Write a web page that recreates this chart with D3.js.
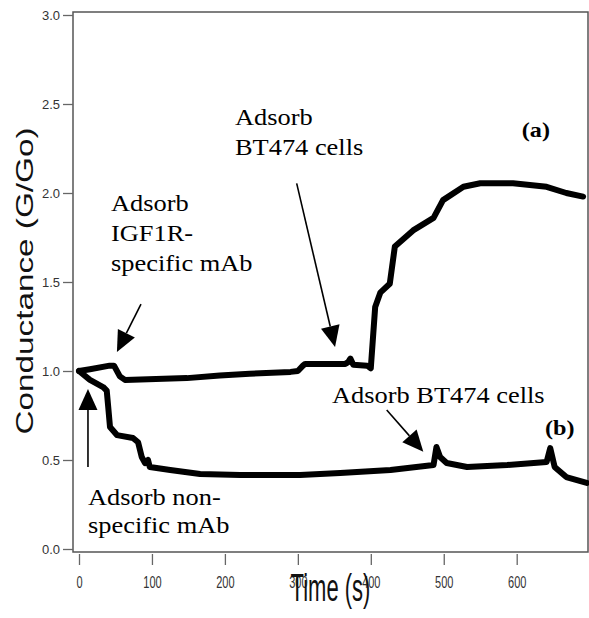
<!DOCTYPE html>
<html>
<head>
<meta charset="utf-8">
<script src="https://cdn.jsdelivr.net/npm/d3@7"></script>
<style>
  html, body { margin: 0; padding: 0; background: #fff; }
  svg { display: block; }
</style>
</head>
<body>
<svg id="chart" width="589" height="618"></svg>
<script>
// ---- data ----
const timeA = [0, 15, 42, 48, 56, 63, 148, 193, 234, 290, 300, 307, 310, 365, 369, 372, 376, 395, 400, 406, 413, 426, 433, 458, 486, 499, 527, 550, 595, 641, 668, 691];
const condA = [1.0, 1.01, 1.03, 1.03, 0.97, 0.95, 0.96, 0.975, 0.985, 0.995, 1.0, 1.03, 1.04, 1.04, 1.05, 1.07, 1.035, 1.03, 1.015, 1.36, 1.44, 1.49, 1.70, 1.79, 1.86, 1.96, 2.035, 2.055, 2.055, 2.035, 2.0, 1.98];
const timeB = [0, 15, 33, 38, 40, 42.5, 52, 74, 81, 86, 90.5, 94.6, 97, 125, 166, 221, 303, 358, 427, 486, 490, 495, 504, 532, 587, 641, 646, 652, 668, 696];
const condB = [1.0, 0.95, 0.91, 0.89, 0.80, 0.685, 0.64, 0.624, 0.60, 0.517, 0.483, 0.50, 0.461, 0.444, 0.421, 0.416, 0.416, 0.427, 0.444, 0.472, 0.573, 0.517, 0.483, 0.461, 0.472, 0.489, 0.567, 0.461, 0.404, 0.371];
const xTicks = [0, 100, 200, 300, 400, 500, 600];
const yTicks = [0.0, 0.5, 1.0, 1.5, 2.0, 2.5, 3.0];
const xTitle = "Time (s)";
const yTitle = "Conductance (G/Go)";

const svg = d3.select("#chart");
const box = {left: 73, top: 12, right: 588, bottom: 552};

const x = d3.scaleLinear().domain([0, 600]).range([79, 516.7]);
const y = d3.scaleLinear().domain([0, 3]).range([549, 15]);

// frame
svg.append("rect")
  .attr("x", box.left).attr("y", box.top)
  .attr("width", box.right - box.left).attr("height", box.bottom - box.top)
  .attr("fill", "none").attr("stroke", "#555").attr("stroke-width", 1.5);

// y axis
const yAxis = svg.append("g").attr("transform", `translate(${box.left},0)`)
  .call(d3.axisLeft(y).tickValues(yTicks).tickFormat(d3.format(".1f")).tickSize(10).tickPadding(3));
yAxis.select(".domain").remove();
yAxis.selectAll("line").attr("stroke", "#666").attr("stroke-width", 1.3);
yAxis.selectAll("text").attr("font-family", "Liberation Sans, Arial, sans-serif")
  .attr("font-size", 13).attr("fill", "#333");

// x axis
const xAxis = svg.append("g").attr("transform", `translate(0,${box.bottom + 2})`)
  .call(d3.axisBottom(x).tickValues(xTicks).tickFormat(d3.format("d")).tickSize(11));
xAxis.select(".domain").remove();
xAxis.selectAll("line").attr("stroke", "#666").attr("stroke-width", 1.3);
xAxis.selectAll("text")
  .attr("y", 0).attr("dy", 0)
  .attr("transform", "translate(0,34) scale(1,1.5)")
  .attr("font-family", "Liberation Sans, Arial, sans-serif")
  .attr("font-size", 11).attr("fill", "#333");

// axis titles
svg.append("text")
  .attr("transform", `translate(${(box.left + box.right) / 2},${601}) scale(1,1.75)`)
  .attr("text-anchor", "middle")
  .attr("font-family", "Liberation Sans, Arial, sans-serif")
  .attr("font-size", 22).attr("fill", "#111")
  .text(xTitle);

svg.append("text")
  .attr("transform", `translate(33,281) rotate(-90)`)
  .attr("text-anchor", "middle")
  .attr("font-family", "Liberation Sans, Arial, sans-serif")
  .attr("font-size", 24).attr("fill", "#111")
  .attr("textLength", 307).attr("lengthAdjust", "spacingAndGlyphs")
  .text(yTitle);

// curves
const line = d3.line().x(d => x(d[0])).y(d => y(d[1]));
const seriesA = timeA.map((t, i) => [t, condA[i]]);
const seriesB = timeB.map((t, i) => [t, condB[i]]);
[seriesB, seriesA].forEach(s => {
  svg.append("path").datum(s)
    .attr("d", line)
    .attr("fill", "none").attr("stroke", "#000")
    .attr("stroke-width", 6).attr("stroke-linejoin", "round").attr("stroke-linecap", "round");
});

// arrows (annotation positions in data units)
const arrows = [
  {from: [85, 1.376], to: [52, 1.107]},
  {from: [298.4, 2.054], to: [351, 1.135]},
  {from: [12.3, 0.461], to: [12.3, 0.899]},
  {from: [421.8, 0.781], to: [472, 0.547]}
];
arrows.forEach(a => {
  const x1 = x(a.from[0]), y1 = y(a.from[1]), x2 = x(a.to[0]), y2 = y(a.to[1]);
  const ang = Math.atan2(y2 - y1, x2 - x1);
  const hl = 21, hw = 9.5;
  const bx = x2 - hl * Math.cos(ang), by = y2 - hl * Math.sin(ang);
  svg.append("line").attr("x1", x1).attr("y1", y1).attr("x2", bx).attr("y2", by)
    .attr("stroke", "#000").attr("stroke-width", 1.6);
  const p = [
    [x2, y2],
    [bx + hw * Math.sin(ang), by - hw * Math.cos(ang)],
    [bx - hw * Math.sin(ang), by + hw * Math.cos(ang)]
  ];
  svg.append("polygon").attr("points", p.map(q => q.join(",")).join(" ")).attr("fill", "#000");
});

// annotation text
const labels = [
  {at: [43.9, 1.899], lines: ["Adsorb", "IGF1R-", "specific mAb"], gap: 30},
  {at: [213.8, 2.382], lines: ["Adsorb", "BT474 cells"], gap: 30},
  {at: [346.8, 0.820], lines: ["Adsorb BT474 cells"], gap: 30},
  {at: [12.3, 0.247], lines: ["Adsorb non-", "specific mAb"], gap: 28},
  {at: [607, 2.315], lines: ["(a)"], gap: 0, bold: true},
  {at: [638.8, 0.640], lines: ["(b)"], gap: 0, bold: true}
];
labels.forEach(l => {
  l.lines.forEach((s, i) => {
    const t = svg.append("text")
      .attr("x", x(l.at[0])).attr("y", y(l.at[1]) + i * l.gap)
      .attr("font-family", "Liberation Serif, 'Times New Roman', serif")
      .attr("font-size", l.bold ? 22 : 24)
      .attr("font-weight", l.bold ? "bold" : "normal")
      .attr("fill", "#000")
      .text(s);
    const w = t.node().getComputedTextLength();
    t.attr("textLength", w * 1.1).attr("lengthAdjust", "spacingAndGlyphs");
  });
});
</script>
</body>
</html>
